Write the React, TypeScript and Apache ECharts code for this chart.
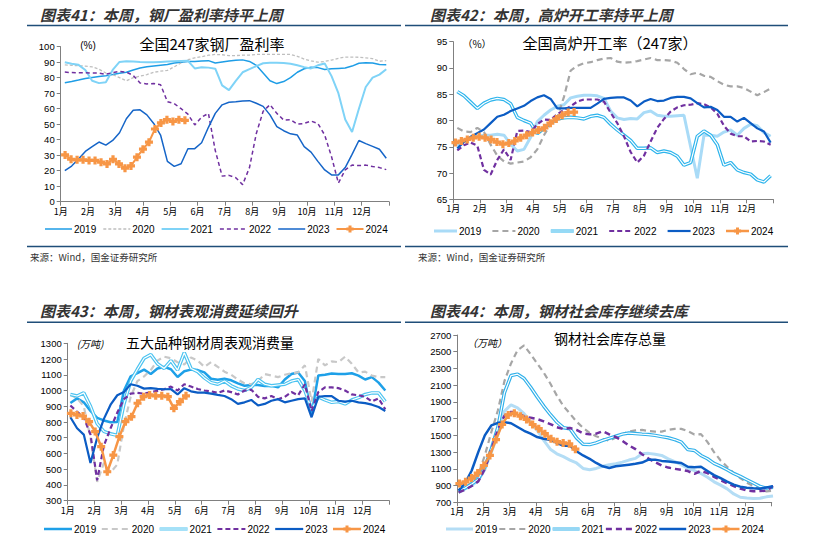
import React, { useEffect, useRef } from "react";
import * as echarts from "echarts";

const PAGE_W = 813;
const PAGE_H = 552;

const MONTHS = ["1月", "2月", "3月", "4月", "5月", "6月", "7月", "8月", "9月", "10月", "11月", "12月"];
const YEARS = ["2019", "2020", "2021", "2022", "2023", "2024"];

// ---------- 图表41 钢厂盈利率 (%) : historical series start 0.15 month, step 0.25 month ----------
const p41_2019 = [76.8, 77.6, 78.5, 79.5, 80.2, 80.8, 81.3, 82, 82.8, 83.5, 85, 86.2, 87, 87.5, 88, 88.5, 89.5, 90, 90.5, 90.5, 90.8, 91, 89.5, 90.2, 90.8, 91.2, 91.5, 90.5, 88, 83, 78, 76.2, 77.5, 80, 83.5, 85.8, 86.8, 86.5, 85.3, 85.7, 86, 86.3, 87.5, 89.3, 89.6, 89.5, 88.5, 88.4];
const p41_2020 = [88.3, 88, 87.7, 87.5, 87, 85.5, 83, 82, 80, 78, 80, 81, 82, 83.5, 84.2, 84.7, 87, 89.5, 91.6, 92.8, 93.5, 94.5, 95, 94.8, 94.2, 94.3, 94.5, 94.6, 95, 95, 95, 95, 95, 95, 93.8, 92, 90.8, 90, 90.5, 91.4, 92.5, 93.3, 93.3, 93.2, 92.8, 92.3, 90.6, 91];
const p41_2021 = [90, 89, 88.3, 85, 78, 76.5, 77, 85, 90.2, 90.6, 90.5, 90.2, 90, 90, 90.2, 90.4, 90.6, 90.8, 90.9, 86, 86.8, 86.5, 85.8, 75, 72, 78, 83.5, 85.5, 87.5, 89.3, 89.7, 89.7, 89.5, 89, 88, 86.8, 86, 88, 89.2, 81, 70, 53, 45, 60, 74, 80, 82, 85.5];
const p41_2022 = [83.6, 83.3, 83.2, 83.2, 83, 83, 82.2, 83.3, 84.1, 83.6, 81.5, 76.6, 76, 76.2, 75.5, 64.5, 63.3, 60, 56.5, 49.5, 54.5, 57, 33, 16.5, 17, 15.5, 11, 22, 44, 58.3, 62.6, 57, 52.7, 52.9, 50, 50.5, 52, 50.5, 43, 29, 12, 20.5, 23.6, 23.3, 23.6, 22.7, 22, 20.7];
const p41_2023 = [20, 23, 27.5, 32.4, 35.5, 38.5, 36.5, 39.5, 44.5, 53.5, 59, 59.3, 56, 50.5, 43, 26, 22.8, 24.5, 34.2, 34.2, 38, 48, 57, 62.5, 64.2, 64.5, 65, 65.2, 63.5, 61.5, 56, 48.5, 45.8, 43.8, 43, 35.5, 32, 26, 20.5, 17.3, 17.3, 22, 30.5, 39.5, 37.5, 35.7, 33.8, 28];
const p41_2024 = [30.2, 27.4, 27, 27, 26.6, 26.6, 25.5, 24.4, 27.4, 24.4, 21.6, 23.1, 28.7, 33.9, 38.4, 46.9, 50.8, 52.9, 51.8, 52.9, 52.5];

// ---------- 图表42 高炉开工率 (%) ----------
const p42_2019 = [75.2, 76, 76.8, 77, 77.2, 77.2, 77.4, 77.2, 75.5, 74.2, 74.5, 76.8, 79.8, 81, 82, 82.7, 83, 84.3, 84.6, 84.8, 84.8, 84.7, 84.2, 81.8, 80.5, 80.2, 80.4, 80.3, 81.5, 81.8, 81, 80.8, 80.8, 80.9, 81, 75, 69, 77.2, 77.2, 77, 77.8, 78.2, 77.2, 78.5, 79.3, 79, 77.7, 77];
const p42_2020 = [78.6, 77.9, 77.8, 78.6, 77.8, 75.4, 73.3, 72.2, 71.8, 72, 72.2, 73, 74.5, 77.2, 79.3, 80.6, 84.5, 89.5, 90.4, 90.9, 91.1, 91.5, 91.8, 91.9, 91.2, 91, 91.1, 91.3, 91.6, 91.9, 91.5, 91.5, 91.4, 91, 89.8, 88.8, 89.1, 88.5, 88.3, 87.5, 86.8, 86.5, 86.5, 86.2, 85.5, 84.8, 85.4, 86.1];
const p42_2021 = [85.5, 84.7, 83.5, 82.3, 83.3, 83.9, 84.2, 84, 83.2, 80.6, 80, 79.5, 77.5, 78.5, 79.5, 80.3, 80.5, 80.6, 80.5, 80.3, 80.8, 81, 80.6, 79.3, 78.2, 77.2, 76.2, 74.7, 74.7, 74.8, 73.9, 74.2, 73.9, 73.2, 71.5, 72, 77, 78, 77.2, 75.4, 71.5, 72, 70.6, 70.1, 69.8, 68.7, 68.3, 69.5];
const p42_2022 = [74.3, 75.3, 75.8, 75.2, 70.6, 69.7, 72.5, 74.5, 72.5, 78, 78.1, 77.8, 79.3, 80.2, 80.1, 81.2, 82, 82.7, 83.6, 84, 84, 84, 83.6, 81.5, 79.5, 77, 74, 72, 73.3, 76, 78.6, 80.3, 81.7, 82.5, 82.9, 83, 83.3, 83.1, 82.5, 81.3, 79, 77.5, 77, 77, 76, 76.1, 76, 75.4];
const p42_2023 = [74.7, 75.9, 76.9, 77.6, 78.3, 79.5, 80.7, 81.1, 81.8, 82.3, 82.8, 83.7, 84.4, 84.8, 84.1, 82.3, 82.3, 82.4, 82.4, 82.4, 82.4, 83.2, 84.1, 84.3, 84.4, 84.4, 83.8, 82.7, 83.6, 84.1, 83.7, 83.8, 84.3, 84.5, 84.5, 84.2, 83.3, 82.5, 82.6, 82, 80.7, 80.7, 79.8, 80.5, 79.5, 78.5, 77.9, 75.8];
const p42_2024 = [75.8, 76.1, 76.4, 76.7, 76.9, 76.7, 76.4, 75.9, 75.5, 75.7, 76.1, 76.7, 77.2, 77.7, 78.2, 78.6, 79.5, 80.3, 81, 81.5, 81.6];

// ---------- 图表43 五大品种钢材周表观消费量 (万吨) ----------
const p43_2019 = [921, 950, 925, 870, 826, 810, 798, 800, 1000, 1090, 1110, 1133, 1105, 1140, 1150, 1135, 1086, 1122, 1133, 1130, 1115, 1075, 1069, 1075, 1065, 1045, 1030, 1035, 1035, 1028, 1030, 1020, 1070, 1105, 1115, 1060, 850, 1095, 1100, 1108, 1105, 1105, 1110, 1095, 1070, 1085, 1050, 1000];
const p43_2020 = [975, 950, 900, 700, 420, 540, 480, 530, 780, 960, 1060, 1090, 1130, 1190, 1215, 1205, 1180, 1165, 1210, 1190, 1150, 1180, 1150, 1120, 1100, 1070, 1045, 1040, 1060, 1105, 1095, 1085, 1100, 1110, 1115, 1160, 930, 1200, 1160, 1185, 1180, 1215, 1170, 1115, 1120, 1095, 1085, 1085];
const p43_2021 = [975, 965, 985, 900, 790, 740, 725, 715, 915, 1060, 1135, 1205, 1228, 1170, 1140, 1190, 1130, 1240, 1140, 1120, 1080, 1050, 1040, 1060, 1030, 1010, 1000, 1020, 1070, 1040, 1030, 1035, 1040, 1060, 1070, 1000, 880, 960, 940, 925, 930, 915, 940, 955, 975, 985, 985, 930];
const p43_2022 = [905, 865, 830, 720, 430, 650, 760, 860, 945, 980, 985, 980, 990, 998, 1008, 1025, 1000, 1040, 1025, 1010, 1000, 995, 985, 1000, 990, 975, 1000, 1005, 960, 950, 965, 945, 960, 990, 970, 1040, 870, 990, 1020, 1020, 1015, 1000, 975, 970, 960, 930, 950, 880];
const p43_2023 = [830, 760, 720, 540, 700, 820, 910, 970, 990, 1040, 1030, 1012, 1015, 1010, 1008, 1009, 975, 1015, 995, 987, 987, 980, 972, 965, 945, 915, 925, 940, 905, 915, 935, 945, 925, 935, 945, 950, 830, 960, 965, 965, 935, 930, 935, 925, 920, 910, 895, 870];
const p43_2024 = [855, 845, 838, 802, 739, 643, 484, 590, 707, 802, 834, 919, 961, 972, 966, 966, 961, 887, 929, 966];

// ---------- 图表44 钢材社会库存总量 (万吨) ----------
const p44_2019 = [815, 860, 900, 960, 1090, 1300, 1510, 1790, 1865, 1830, 1760, 1660, 1560, 1440, 1335, 1280, 1245, 1205, 1170, 1105, 1090, 1105, 1130, 1148, 1160, 1180, 1205, 1225, 1280, 1285, 1275, 1260, 1220, 1185, 1150, 1105, 1080, 1045, 1000, 945, 905, 860, 800, 760, 752, 746, 748, 765, 775];
const p44_2020 = [815, 870, 940, 1030, 1260, 1540, 1800, 2150, 2360, 2520, 2575, 2470, 2360, 2250, 2120, 1975, 1850, 1760, 1665, 1590, 1530, 1490, 1460, 1435, 1475, 1515, 1545, 1560, 1565, 1552, 1545, 1545, 1565, 1578, 1578, 1550, 1510, 1515, 1420, 1300, 1200, 1125, 1050, 990, 935, 895, 860, 830, 840];
const p44_2021 = [835, 870, 920, 975, 1120, 1340, 1600, 2010, 2215, 2232, 2180, 2075, 1960, 1850, 1750, 1660, 1592, 1580, 1470, 1395, 1390, 1410, 1440, 1465, 1490, 1515, 1528, 1522, 1515, 1510, 1500, 1485, 1472, 1450, 1420, 1330, 1320, 1260, 1220, 1165, 1130, 1090, 1045, 1010, 970, 930, 890, 870, 880];
const p44_2022 = [820, 850, 895, 950, 1100, 1330, 1570, 1735, 1780, 1775, 1725, 1710, 1695, 1668, 1635, 1598, 1575, 1588, 1565, 1525, 1512, 1520, 1550, 1512, 1480, 1435, 1380, 1335, 1275, 1222, 1180, 1140, 1115, 1100, 1088, 1073, 1040, 1075, 1048, 1005, 965, 928, 893, 865, 840, 832, 835, 840, 895];
const p44_2023 = [840, 930, 1080, 1300, 1500, 1620, 1650, 1656, 1645, 1600, 1555, 1520, 1480, 1460, 1445, 1410, 1375, 1375, 1310, 1260, 1220, 1170, 1130, 1110, 1130, 1140, 1150, 1160, 1175, 1210, 1210, 1195, 1188, 1180, 1170, 1125, 1118, 1125, 1075, 1025, 988, 948, 910, 887, 875, 868, 863, 878, 892];
const p44_2024 = [925, 945, 990, 1050, 1140, 1260, 1450, 1630, 1745, 1765, 1730, 1690, 1630, 1580, 1520, 1460, 1425, 1410, 1400, 1335];

// ---------- styling ----------
const PLUS = "path://M3,0L7,0L7,3L10,3L10,7L7,7L7,10L3,10L3,7L0,7L0,3L3,3Z";
const ORANGE = "#F79646";
const PURPLE = "#7030A0";
const DARK = "#0B5CC4";
const HDR = "#1F4E79";
const CJK = "'Noto Sans CJK SC', sans-serif";
const LAT = "'Liberation Sans', Arial, 'Noto Sans CJK SC', sans-serif";

type LineSpec = {
  name: string;
  vals: number[];
  start: number;
  step: number;
  color: string;
  width: number;
  dash?: number[];
  double?: boolean;
  marker?: boolean;
};

function toPoints(vals: number[], start: number, step: number) {
  return vals.map((v, i) => [Math.round((start + i * step) * 10000) / 10000, v]);
}

function buildSeries(specs: LineSpec[]) {
  const out: any[] = [];
  specs.forEach((s) => {
    const data = toPoints(s.vals, s.start, s.step);
    out.push({
      type: "line",
      name: s.name,
      data,
      symbol: s.marker ? PLUS : "none",
      showSymbol: !!s.marker,
      symbolSize: s.marker ? 8 : 0,
      itemStyle: { color: s.color },
      lineStyle: { color: s.color, width: s.width, type: s.dash ? s.dash : "solid" },
      silent: true,
    });
    if (s.double) {
      out.push({
        type: "line",
        name: s.name + "-inner",
        data,
        symbol: "none",
        showSymbol: false,
        itemStyle: { color: "#ffffff" },
        lineStyle: { color: "#ffffff", width: Math.max(1, s.width * 0.34) },
        silent: true,
      });
    }
  });
  return out;
}

function txt(text: string, x: number, y: number, size: number, o: any = {}) {
  return {
    type: "text",
    x,
    y,
    silent: true,
    z: 10,
    style: {
      text,
      fontSize: size,
      fontFamily: o.family || CJK,
      fontStyle: o.italic ? "italic" : "normal",
      fontWeight: o.bold ? "bold" : "normal",
      fill: o.color || "#000",
      textAlign: o.align || "left",
      align: o.align || "left",
      textVerticalAlign: "middle",
      verticalAlign: "middle",
    },
  };
}

function hline(x1: number, x2: number, y: number) {
  return {
    type: "line",
    silent: true,
    shape: { x1, y1: y, x2, y2: y },
    style: { stroke: HDR, lineWidth: 1.5 },
  };
}

type LegendLayout = { textStart: number; stride: number; iconW: number; y: number };

// custom legend so that dashes, double lines and the marker look like the reference
function legendGraphics(specs: LineSpec[], L: LegendLayout) {
  const els: any[] = [];
  specs.forEach((s, i) => {
    const tx = L.textStart + i * L.stride;
    const x2 = tx - 2;
    const x1 = x2 - L.iconW;
    els.push({
      type: "line",
      silent: true,
      z: 10,
      shape: { x1, y1: L.y, x2, y2: L.y },
      style: { stroke: s.color, lineWidth: Math.min(s.width, 3), lineDash: s.dash || null },
    });
    if (s.double) {
      els.push({
        type: "line",
        silent: true,
        z: 11,
        shape: { x1, y1: L.y, x2, y2: L.y },
        style: { stroke: "#fff", lineWidth: 1 },
      });
    }
    if (s.marker) {
      const cx = (x1 + x2) / 2;
      const cy = L.y;
      const a = 3.6;
      const b = 1.5;
      els.push({
        type: "polygon",
        silent: true,
        z: 12,
        shape: {
          points: [
            [cx - b, cy - a], [cx + b, cy - a], [cx + b, cy - b], [cx + a, cy - b], [cx + a, cy + b], [cx + b, cy + b],
            [cx + b, cy + a], [cx - b, cy + a], [cx - b, cy + b], [cx - a, cy + b], [cx - a, cy - b], [cx - b, cy - b],
          ],
        },
        style: { fill: s.color },
      });
    }
    els.push(txt(s.name, tx, L.y, 10, { family: LAT }));
  });
  return els;
}

type ChartCfg = {
  grid: [number, number, number, number];
  yMin: number;
  yMax: number;
  yStep: number;
  legend: LegendLayout;
  specs: LineSpec[];
  graphics: any[];
};

function buildOption(c: ChartCfg) {
  const axisColor = "#808080";
  return {
    animation: false,
    textStyle: { fontFamily: LAT },
    grid: { left: c.grid[0], top: c.grid[1], width: c.grid[2], height: c.grid[3], containLabel: false },
    xAxis: {
      type: "value",
      min: 0,
      max: 12,
      interval: 1,
      axisLine: { show: true, lineStyle: { color: axisColor, width: 1 } },
      axisTick: { show: true, length: 4, lineStyle: { color: axisColor } },
      axisLabel: {
        fontSize: 9,
        color: "#000",
        margin: 5,
        fontFamily: CJK,
        formatter: (v: number) => MONTHS[v] ?? "",
      },
      splitLine: { show: false },
    },
    yAxis: {
      type: "value",
      min: c.yMin,
      max: c.yMax,
      interval: c.yStep,
      axisLine: { show: true, lineStyle: { color: axisColor, width: 1 } },
      axisTick: { show: true, length: 4, lineStyle: { color: axisColor } },
      axisLabel: {
        fontSize: 9.5,
        color: "#000",
        margin: 6,
        fontFamily: LAT,
        formatter: (v: number) => String(v),
      },
      splitLine: { show: false },
    },
    series: buildSeries(c.specs),
    graphic: [...c.graphics, ...legendGraphics(c.specs, c.legend)],
  };
}

const H_START = 0.15;
const H_STEP = 0.25;

const option41 = buildOption({
  grid: [60.7, 46.7, 328.3, 155],
  yMin: 0,
  yMax: 100,
  yStep: 10,
  legend: { textStart: 74, stride: 58.3, iconW: 27, y: 229 },
  specs: [
    { name: "2019", vals: p41_2019, start: H_START, step: H_STEP, color: "#1E9DE6", width: 1.5 },
    { name: "2020", vals: p41_2020, start: H_START, step: H_STEP, color: "#BFBFBF", width: 1.3, dash: [3, 2] },
    { name: "2021", vals: p41_2021, start: H_START, step: H_STEP, color: "#7FD3F7", width: 2 },
    { name: "2022", vals: p41_2022, start: H_START, step: H_STEP, color: PURPLE, width: 1.5, dash: [4, 3] },
    { name: "2023", vals: p41_2023, start: H_START, step: H_STEP, color: "#1565C8", width: 1.5 },
    { name: "2024", vals: p41_2024, start: 0.16, step: 0.219, color: ORANGE, width: 2, marker: true },
  ],
  graphics: [
    txt("图表41：本周，钢厂盈利率持平上周", 40, 14.5, 15, { italic: true, bold: true, color: "#333" }),
    hline(27, 401, 25.5),
    hline(27, 401, 246.5),
    txt("来源：Wind，国金证券研究所", 30, 257, 9.5, { color: "#333" }),
    txt("全国247家钢厂盈利率", 212, 43, 15, { align: "center" }),
    txt("(%)", 88, 45, 10, { align: "center", family: LAT }),
  ],
});

const option42 = buildOption({
  grid: [453.3, 41.7, 320, 157.6],
  yMin: 65,
  yMax: 95,
  yStep: 5,
  legend: { textStart: 459, stride: 58.4, iconW: 23, y: 231 },
  specs: [
    { name: "2019", vals: p42_2019, start: H_START, step: H_STEP, color: "#A9DBF7", width: 3 },
    { name: "2020", vals: p42_2020, start: H_START, step: H_STEP, color: "#A6A6A6", width: 2.2, dash: [6, 4] },
    { name: "2021", vals: p42_2021, start: H_START, step: H_STEP, color: "#2DB4EC", width: 3.5, double: true },
    { name: "2022", vals: p42_2022, start: H_START, step: H_STEP, color: PURPLE, width: 2.2, dash: [5, 3] },
    { name: "2023", vals: p42_2023, start: H_START, step: H_STEP, color: DARK, width: 2.2 },
    { name: "2024", vals: p42_2024, start: 0.08, step: 0.2225, color: ORANGE, width: 2.5, marker: true },
  ],
  graphics: [
    txt("图表42：本周，高炉开工率持平上周", 430, 14.5, 15, { italic: true, bold: true, color: "#333" }),
    hline(405, 788, 25.5),
    hline(405, 788, 246.5),
    txt("来源：Wind，国金证券研究所", 418, 257, 9.5, { color: "#333" }),
    txt("全国高炉开工率（247家）", 610, 42, 15, { align: "center" }),
    txt("（%）", 477, 43, 10, { align: "center" }),
  ],
});

const option43 = buildOption({
  grid: [67.7, 343.3, 321.6, 157.4],
  yMin: 300,
  yMax: 1300,
  yStep: 100,
  legend: { textStart: 74, stride: 57.8, iconW: 28, y: 529 },
  specs: [
    { name: "2019", vals: p43_2019, start: 0.1, step: H_STEP, color: "#1EA0E8", width: 2.5 },
    { name: "2020", vals: p43_2020, start: 0.1, step: H_STEP, color: "#C8C8C8", width: 2.2, dash: [6, 4] },
    { name: "2021", vals: p43_2021, start: 0.1, step: H_STEP, color: "#4CC3F0", width: 3.5, double: true },
    { name: "2022", vals: p43_2022, start: 0.1, step: H_STEP, color: PURPLE, width: 2.2, dash: [5, 3] },
    { name: "2023", vals: p43_2023, start: 0.1, step: H_STEP, color: DARK, width: 2.2 },
    { name: "2024", vals: p43_2024, start: 0.12, step: 0.226, color: ORANGE, width: 2.5, marker: true },
  ],
  graphics: [
    txt("图表43：本周，钢材表观消费延续回升", 40, 310.7, 15, { italic: true, bold: true, color: "#333" }),
    hline(27, 401, 322.3),
    txt("五大品种钢材周表观消费量", 210, 342, 14, { align: "center" }),
    txt("(万吨)", 90, 343, 10, { align: "center", italic: true }),
  ],
});

const option44 = buildOption({
  grid: [457.3, 335, 314.4, 167.3],
  yMin: 700,
  yMax: 2700,
  yStep: 200,
  legend: { textStart: 475, stride: 53.3, iconW: 27, y: 529 },
  specs: [
    { name: "2019", vals: p44_2019, start: 0.05, step: H_STEP, color: "#B4DDF5", width: 3 },
    { name: "2020", vals: p44_2020, start: 0.05, step: H_STEP, color: "#A6A6A6", width: 2.2, dash: [6, 4] },
    { name: "2021", vals: p44_2021, start: 0.05, step: H_STEP, color: "#2FB0EA", width: 3.5, double: true },
    { name: "2022", vals: p44_2022, start: 0.05, step: H_STEP, color: PURPLE, width: 2.5, dash: [6, 4] },
    { name: "2023", vals: p44_2023, start: 0.05, step: H_STEP, color: DARK, width: 2.5 },
    { name: "2024", vals: p44_2024, start: 0.08, step: 0.233, color: ORANGE, width: 2.5, marker: true },
  ],
  graphics: [
    txt("图表44：本周，钢材社会库存继续去库", 430, 310.7, 15, { italic: true, bold: true, color: "#333" }),
    hline(405, 788, 322.3),
    txt("钢材社会库存总量", 610, 338, 14, { align: "center" }),
    txt("（万吨）", 487, 342, 10, { align: "center", italic: true }),
  ],
});

function ChartLayer({ option }: { option: any }) {
  const ref = useRef<HTMLDivElement>(null);
  useEffect(() => {
    if (!ref.current) return;
    const chart = echarts.init(ref.current, undefined, { renderer: "svg" });
    chart.setOption(option);
    return () => chart.dispose();
  }, [option]);
  return (
    <div
      ref={ref}
      style={{ position: "absolute", left: 0, top: 0, width: PAGE_W, height: PAGE_H }}
    />
  );
}

export default function App() {
  return (
    <div
      style={{
        position: "absolute",
        left: 0,
        top: 0,
        width: PAGE_W,
        height: PAGE_H,
        background: "#ffffff",
        overflow: "hidden",
      }}
    >
      <ChartLayer option={option41} />
      <ChartLayer option={option42} />
      <ChartLayer option={option43} />
      <ChartLayer option={option44} />
    </div>
  );
}
